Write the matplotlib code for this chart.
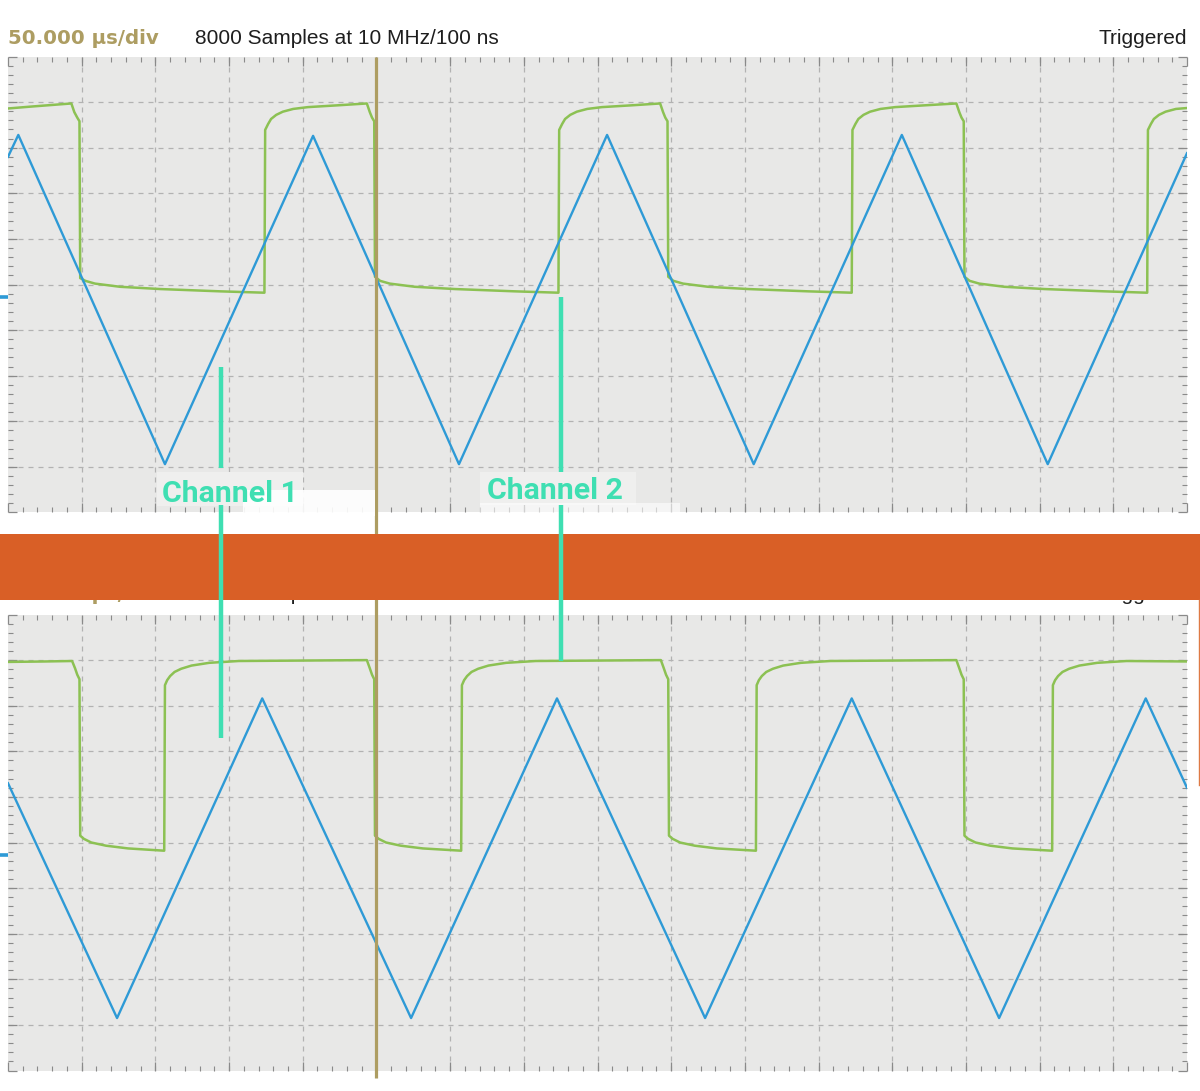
import matplotlib
matplotlib.use('Agg')
import matplotlib.pyplot as plt
from matplotlib.patches import Rectangle
import numpy as np

W, H = 1200, 1091

# ---------------- text ----------------
header_timebase = "50.000 µs/div"
header_samples = "8000 Samples at 10 MHz/100 ns"
header_status = "Triggered"
channel_labels = ["Channel 1", "Channel 2"]

# ---------------- scope grid ----------------
n_hdiv = 16
n_vdiv = 10
trigger_t = 5.0

# ---------------- top panel traces (divisions) ----------------
top_blue_t = [0.0, 0.14, 2.13, 4.14, 6.12, 8.13, 10.12, 12.13, 14.11, 16.0]
top_blue_v = [2.80, 3.28, -3.94, 3.26, -3.94, 3.28, -3.94, 3.28, -3.94, 2.88]

top_green_t = [
    0.00, 0.30, 0.62, 0.86, 0.90, 0.94, 0.97, 0.98,
    1.05, 1.18, 1.52, 2.07, 2.88, 3.48,
    3.49, 3.53, 3.57, 3.64, 3.73, 3.87, 4.07, 4.48, 4.87, 4.91, 4.94, 4.97, 4.98,
    5.05, 5.18, 5.52, 6.07, 6.88, 7.47,
    7.48, 7.52, 7.56, 7.63, 7.72, 7.86, 8.06, 8.47, 8.85, 8.89, 8.92, 8.95, 8.96,
    9.03, 9.16, 9.50, 10.05, 10.86, 11.45,
    11.46, 11.50, 11.54, 11.61, 11.70, 11.84, 12.04, 12.45, 12.87, 12.91, 12.94, 12.97, 12.98,
    13.05, 13.18, 13.52, 14.07, 14.88, 15.46,
    15.47, 15.51, 15.55, 15.62, 15.71, 15.85, 16.00]
top_green_v = [
    3.86, 3.90, 3.94, 3.97, 3.78, 3.66, 3.58, 0.14,
    0.08, 0.02, -0.05, -0.10, -0.15, -0.18,
    3.39, 3.52, 3.63, 3.72, 3.79, 3.85, 3.89, 3.93, 3.97, 3.78, 3.66, 3.58, 0.17,
    0.08, 0.02, -0.05, -0.10, -0.15, -0.18,
    3.39, 3.52, 3.63, 3.72, 3.79, 3.85, 3.89, 3.93, 3.97, 3.78, 3.66, 3.58, 0.17,
    0.08, 0.02, -0.05, -0.10, -0.15, -0.18,
    3.39, 3.52, 3.63, 3.72, 3.79, 3.85, 3.89, 3.93, 3.97, 3.78, 3.66, 3.58, 0.17,
    0.08, 0.02, -0.05, -0.10, -0.15, -0.18,
    3.39, 3.52, 3.63, 3.72, 3.79, 3.85, 3.87]

# ---------------- bottom panel traces (divisions) ----------------
bot_blue_t = [0.0, 1.48, 3.45, 5.47, 7.45, 9.46, 11.45, 13.45, 15.44, 16.0]
bot_blue_v = [1.30, -3.85, 3.16, -3.85, 3.16, -3.85, 3.16, -3.85, 3.16, 1.20]

bot_green_t = [
    0.00, 0.50, 0.87, 0.91, 0.94, 0.97, 0.98,
    1.03, 1.13, 1.33, 1.63, 2.12,
    2.13, 2.16, 2.20, 2.26, 2.35, 2.49, 2.73, 3.13, 4.87, 4.91, 4.94, 4.97, 4.98,
    5.03, 5.13, 5.33, 5.63, 6.15,
    6.16, 6.19, 6.23, 6.29, 6.38, 6.52, 6.76, 7.16, 8.86, 8.90, 8.93, 8.96, 8.97,
    9.02, 9.12, 9.32, 9.62, 10.15,
    10.16, 10.19, 10.23, 10.29, 10.38, 10.52, 10.76, 11.16, 12.87, 12.91, 12.94, 12.97, 12.98,
    13.03, 13.13, 13.33, 13.63, 14.17,
    14.18, 14.21, 14.25, 14.31, 14.40, 14.54, 14.78, 15.18, 16.00]
bot_green_v = [
    3.96, 3.97, 3.98, 3.82, 3.68, 3.58, 0.15,
    0.08, 0.00, -0.07, -0.13, -0.18,
    3.45, 3.56, 3.65, 3.74, 3.81, 3.88, 3.94, 3.98, 4.00, 3.82, 3.68, 3.58, 0.15,
    0.08, 0.00, -0.07, -0.13, -0.18,
    3.45, 3.56, 3.65, 3.74, 3.81, 3.88, 3.94, 3.98, 4.00, 3.82, 3.68, 3.58, 0.15,
    0.08, 0.00, -0.07, -0.13, -0.18,
    3.45, 3.56, 3.65, 3.74, 3.81, 3.88, 3.94, 3.98, 4.00, 3.82, 3.68, 3.58, 0.15,
    0.08, 0.00, -0.07, -0.13, -0.18,
    3.45, 3.56, 3.65, 3.74, 3.81, 3.88, 3.94, 3.98, 3.97]

# ---------------- styling ----------------
C_BG = '#e8e8e7'
C_GRID = '#b2b2b2'
C_TICK = '#8a8a8a'
C_BLUE = '#2e9ad6'
C_GREEN = '#8cc153'
C_GOLD = '#ad9d62'
C_ORANGE = '#d95f26'
C_TEAL = '#3fdfb2'

PX_L, PX_R = 8, 1187
TOP_Y0, TOP_Y1 = 56.5, 512.5
BOT_Y0, BOT_Y1 = 614.5, 1070.5

fig = plt.figure(figsize=(W / 100, H / 100), dpi=100)
fig.patch.set_facecolor('white')


def fig_rect(x0, x1, y0, y1):
    return [x0 / W, 1 - y1 / H, (x1 - x0) / W, (y1 - y0) / H]


def setup_panel(ax):
    ax.set_xlim(0, n_hdiv)
    ax.set_ylim(-n_vdiv / 2, n_vdiv / 2)
    ax.set_facecolor(C_BG)
    for s in ax.spines.values():
        s.set_visible(False)
    ax.set_xticks(np.arange(0, n_hdiv + 1, 1))
    ax.set_yticks(np.arange(-n_vdiv / 2, n_vdiv / 2 + 1, 1))
    ax.set_xticks(np.arange(0, n_hdiv + 0.01, 0.2), minor=True)
    ax.set_yticks(np.arange(-n_vdiv / 2, n_vdiv / 2 + 0.01, 0.2), minor=True)
    ax.tick_params(which='both', direction='in', top=True, bottom=True,
                   left=True, right=True, labelbottom=False, labelleft=False,
                   color=C_TICK)
    ax.tick_params(which='major', length=6.5, width=0.9)
    ax.tick_params(which='minor', length=3.8, width=0.8)
    for i in range(1, n_hdiv):
        ax.axvline(i, color=C_GRID, lw=0.9, ls=(0, (4, 4)), zorder=0.5)
    for j in range(-n_vdiv // 2 + 1, n_vdiv // 2):
        ax.axhline(j, color=C_GRID, lw=0.9, ls=(0, (4, 4)), zorder=0.5)


ax_top = fig.add_axes(fig_rect(PX_L, PX_R, TOP_Y0, TOP_Y1))
ax_bot = fig.add_axes(fig_rect(PX_L, PX_R, BOT_Y0, BOT_Y1))
for ax in (ax_top, ax_bot):
    setup_panel(ax)

ax_top.plot(top_green_t, top_green_v, color=C_GREEN, lw=1.8, zorder=2)
ax_top.plot(top_blue_t, top_blue_v, color=C_BLUE, lw=1.7, zorder=3)
ax_bot.plot(bot_green_t, bot_green_v, color=C_GREEN, lw=1.8, zorder=2)
ax_bot.plot(bot_blue_t, bot_blue_v, color=C_BLUE, lw=1.7, zorder=3)

# ---------------- overlay in pixel coords ----------------
ov = fig.add_axes([0, 0, 1, 1], zorder=5)
ov.set_xlim(0, W)
ov.set_ylim(H, 0)
ov.axis('off')
ov.patch.set_alpha(0)

x_trig = PX_L + trigger_t * (PX_R - PX_L) / n_hdiv
ov.plot([x_trig, x_trig], [TOP_Y0, 1078], color=C_GOLD, lw=2.3, zorder=2,
        solid_capstyle='butt')

hdr_samples_font = dict(family='Liberation Sans', fontsize=15, color='#1e1e1e')
hdr_tb_font = dict(family='DejaVu Sans', fontsize=14.2, weight='bold', color=C_GOLD)

for base in (44, 600):
    ov.text(PX_L, base, header_timebase, va='baseline', ha='left', zorder=3, **hdr_tb_font)
    ov.text(195, base, header_samples, va='baseline', ha='left', zorder=3, **hdr_samples_font)
    ov.text(PX_R, base, header_status, va='baseline', ha='right', zorder=3, **hdr_samples_font)

# orange band
ov.add_patch(Rectangle((0, 534), W, 66, facecolor=C_ORANGE, edgecolor='none', zorder=4))
ov.plot([1198.5, 1198.5], [600, 785], color='#de7a45', lw=1.0, zorder=4)

# channel position markers on left edge
ov.plot([0, 8], [297, 297], color=C_BLUE, lw=2.6, zorder=4, solid_capstyle='butt')
ov.plot([0, 8], [855, 855], color=C_BLUE, lw=2.6, zorder=4, solid_capstyle='butt')

# label backgrounds
ov.add_patch(Rectangle((157, 472), 146, 34, facecolor='#efefee', edgecolor='none', zorder=4.5))
ov.add_patch(Rectangle((243, 490), 132, 26, facecolor='white', edgecolor='none', alpha=0.9, zorder=4.5))
ov.add_patch(Rectangle((480, 472), 156, 33, facecolor='#efefee', edgecolor='none', zorder=4.5))
ov.add_patch(Rectangle((480, 503), 200, 12, facecolor='white', edgecolor='none', alpha=0.6, zorder=4.5))

# teal pointer lines
for x, segs in ((221, [(367, 468), (505, 738)]), (561, [(297, 472), (505, 661)])):
    for y0, y1 in segs:
        ov.plot([x, x], [y0, y1], color=C_TEAL, lw=3.2, zorder=6, solid_capstyle='butt')

ov.text(162, 502, channel_labels[0], ha='left', va='baseline', family='Roboto',
        weight='bold', fontsize=21.8, color=C_TEAL, zorder=7)
ov.text(487, 499, channel_labels[1], ha='left', va='baseline', family='Roboto',
        weight='bold', fontsize=21.8, color=C_TEAL, zorder=7)

fig.savefig('out.png', dpi=100)
